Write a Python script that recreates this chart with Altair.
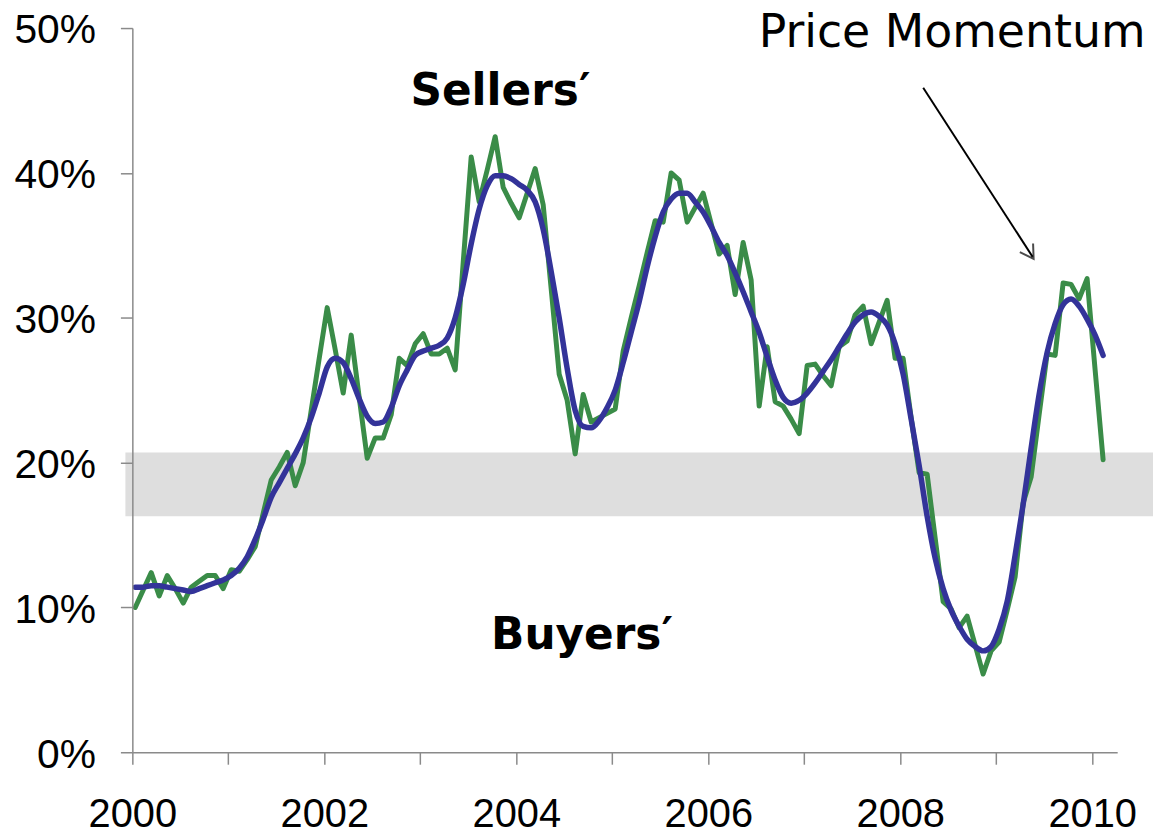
import altair as alt
import pandas as pd

# Monthly index (Jan 2000 = 0 ... Feb 2010 = 121)
green_vals = [
    10.0, 11.2, 12.4, 10.8, 12.2, 11.3, 10.3, 11.4, 11.8, 12.2, 12.2, 11.3,
    12.6, 12.5, 13.3, 14.2, 16.5, 18.8, 19.7, 20.7, 18.4, 20.0, 23.6, 27.2,
    30.7, 27.8, 24.8, 28.8, 24.5, 20.3, 21.7, 21.7, 23.3, 27.2, 26.7, 28.2,
    28.9, 27.5, 27.5, 27.9, 26.4, 33.8, 41.1, 38.0, 40.2, 42.5, 39.0, 37.9,
    36.9, 38.6, 40.3, 37.8, 32.0, 26.1, 24.3, 20.6, 24.7, 22.8, 23.1, 23.4,
    23.7, 27.7, 30.0, 32.2, 34.5, 36.7, 36.6, 40.0, 39.5, 36.6, 37.6, 38.6,
    36.5, 34.4, 35.0, 31.6, 35.2, 32.6, 23.9, 28.0, 24.2, 23.9, 23.0, 22.0,
    26.7, 26.8, 26.0, 25.3, 28.0, 28.4, 30.2, 30.8, 28.2, 29.7, 31.2, 27.2,
    27.2, 23.1, 19.3, 19.2, 14.8, 10.4, 9.9, 8.6, 9.4, 7.4, 5.4, 7.0,
    7.6, 9.8, 12.1, 17.2, 19.0, 23.3, 27.5, 27.4, 32.4, 32.3, 31.3, 32.7,
    26.4, 20.2,
]

blue_vals = [
    11.4, 11.4, 11.5, 11.5, 11.4, 11.3, 11.2, 11.1, 11.3, 11.5, 11.7, 11.9,
    12.2, 12.7, 13.5, 14.7, 16.1, 17.6, 18.6, 19.6, 20.6, 21.7, 23.1, 24.8,
    26.6, 27.2, 26.9, 25.8, 24.4, 23.2, 22.7, 22.8, 23.8, 25.3, 26.4, 27.4,
    27.7, 27.9, 28.1, 28.6, 30.0, 32.3, 35.1, 37.5, 39.1, 39.8, 39.8, 39.6,
    39.2, 38.8, 38.0, 36.1, 33.2, 30.0, 26.5, 23.6, 22.5, 22.4, 22.9, 23.8,
    25.0, 26.9, 29.0, 31.1, 33.5, 35.6, 37.3, 38.2, 38.6, 38.6, 38.0, 37.3,
    36.3, 35.2, 34.3, 33.1, 31.8, 30.4, 29.0, 27.3, 25.7, 24.5, 24.1, 24.3,
    24.8, 25.5, 26.3, 27.1, 28.0, 28.9, 29.7, 30.2, 30.4, 30.1, 29.5, 28.2,
    26.1, 23.0, 19.8, 16.3, 13.4, 11.3, 9.8, 8.7, 7.8, 7.3, 7.0, 7.3,
    8.5, 10.4, 13.6, 17.1, 21.0, 24.7, 27.6, 29.6, 30.9, 31.3, 30.8, 29.9,
    28.8, 27.4,
]

band_low = [16.3]
band_high = [20.7]

x_ticks = list(range(2000, 2011))
y_ticks = [0, 10, 20, 30, 40, 50]

months = list(range(len(green_vals)))
df = pd.DataFrame({
    "t": [2000.03 + m / 12 for m in months],
    "green": green_vals,
    "blue": blue_vals,
})
band_df = pd.DataFrame({"lo": band_low, "hi": band_high})

FONT = "Liberation Sans"
TFONT = "DejaVu Sans"
W, H = 990, 728

xscale = alt.Scale(domain=[2000, 2010.26], nice=False, zero=False)
yscale = alt.Scale(domain=[0, 50], nice=False)

x_axis = alt.Axis(
    values=x_ticks, title=None, grid=False,
    labelExpr="datum.value % 2 == 0 ? format(datum.value, 'd') : ''",
    labelFontSize=40, labelFont=FONT, labelColor="#000000",
    labelPadding=31, tickSize=12, labelFlush=False, labelOverlap=False,
    domainColor="#8a8a8a", tickColor="#8a8a8a", domainWidth=1.5, tickWidth=1.5,
    zindex=1,
)
y_axis = alt.Axis(
    values=y_ticks, title=None, grid=False,
    labelExpr="datum.value + '%'",
    labelFontSize=41, labelFont=FONT, labelColor="#000000",
    labelPadding=25, tickSize=12, labelOffset=3, labelFlush=False,
    domainColor="#8a8a8a", tickColor="#8a8a8a", domainWidth=1.5, tickWidth=1.5,
    zindex=1,
)

band = alt.Chart(band_df).mark_rect(color="#dedede").encode(
    x=alt.value(-7), x2=alt.value(W + 38),
    y=alt.Y("lo:Q", scale=yscale, axis=y_axis),
    y2="hi:Q",
)

green = alt.Chart(df).mark_line(
    color="#3a8c48", strokeWidth=5, strokeJoin="round", strokeCap="round"
).encode(
    x=alt.X("t:Q", scale=xscale, axis=x_axis),
    y=alt.Y("green:Q", scale=yscale),
)

blue = alt.Chart(df).mark_line(
    color="#333399", strokeWidth=5.5, strokeCap="round", interpolate="monotone"
).encode(
    x=alt.X("t:Q", scale=xscale),
    y=alt.Y("blue:Q", scale=yscale),
)

txt_price = alt.Chart(pd.DataFrame({"s": ["Price Momentum"]})).mark_text(
    font=TFONT, fontSize=46, align="center", baseline="alphabetic", color="#000000"
).encode(text="s:N", x=alt.value(824), y=alt.value(19))

txt_sellers = alt.Chart(pd.DataFrame({"s": ["Sellers\u2032"]})).mark_text(
    font=TFONT, fontSize=44, fontWeight="bold", align="center",
    baseline="alphabetic", color="#000000"
).encode(text="s:N", x=alt.value(370), y=alt.value(77))

txt_buyers = alt.Chart(pd.DataFrame({"s": ["Buyers\u2032"]})).mark_text(
    font=TFONT, fontSize=44, fontWeight="bold", align="center",
    baseline="alphabetic", color="#000000"
).encode(text="s:N", x=alt.value(452), y=alt.value(624))

arrow_line = alt.Chart(pd.DataFrame({"a": [0]})).mark_rule(
    color="#000000", strokeWidth=2
).encode(x=alt.value(795), y=alt.value(60), x2=alt.value(905), y2=alt.value(230))

arrow_head = alt.Chart(pd.DataFrame({"a": [0]})).mark_point(
    shape="M-1,-0.6L0,0L-1,0.6", filled=False, color="#000000",
    strokeWidth=2, size=700, angle=57
).encode(x=alt.value(906), y=alt.value(232))

chart = alt.layer(
    band, green, blue, txt_price, txt_sellers, txt_buyers, arrow_line, arrow_head
).properties(
    width=W, height=H,
    autosize=alt.AutoSizeParams(type="none"),
    padding={"left": 125, "top": 18, "right": 36, "bottom": 80},
).configure_view(stroke=None)

chart.save("out.html", embed_options={"renderer": "svg", "actions": False})
